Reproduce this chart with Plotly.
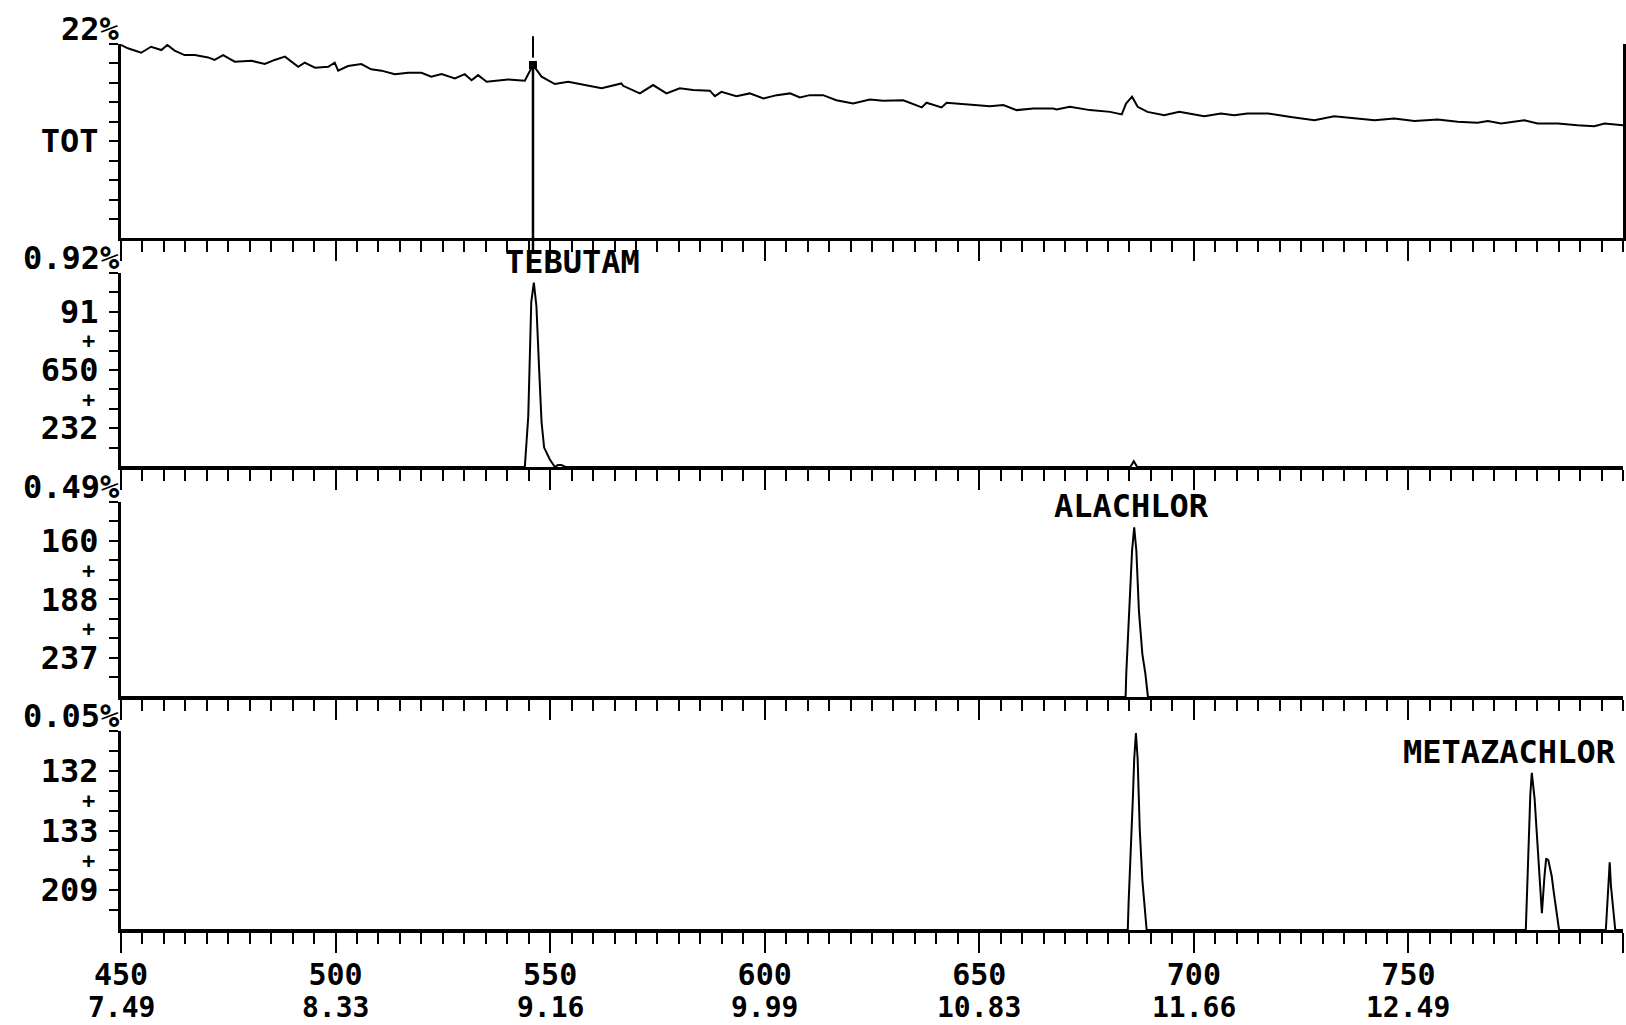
import plotly.graph_objects as go

FONT = "DejaVu Sans Mono"

# scan number axis with retention time (min) underneath
scan_ticks = [450, 500, 550, 600, 650, 700, 750]
time_ticks = ["7.49", "8.33", "9.16", "9.99", "10.83", "11.66", "12.49"]

# full-scale value and ion labels of each trace, top to bottom
scale_labels = ["22%", "0.92%", "0.49%", "0.05%"]
mass_labels = [["TOT"], ["91", "650", "232"], ["160", "188", "237"], ["132", "133", "209"]]

# total ion current (% of full scale)
tic_scan = [450, 451.6, 454.7, 457, 459.4, 460.8, 462.5, 464.8, 467.2, 470.3, 471.8, 473.8,
            476.5, 480.4, 483.5, 485.8, 488.2, 491.3, 492.8, 495.2, 498.3, 499.8, 500.6,
            502.9, 506, 508.3, 510.7, 513.8, 516.9, 520, 522.3, 524.7, 527.8, 530.1, 531.7,
            533.2, 535.2, 540.2, 544.1, 546, 548, 551.1, 554.2, 557.3, 562, 566.6, 567,
            570.9, 574, 577.1, 580.2, 583.3, 587.2, 588.4, 589.9, 593.4, 596.5, 599.7,
            602.8, 605.9, 608.2, 610.5, 613.6, 616.7, 620.6, 624.5, 627.6, 632.3, 633.8,
            636.6, 637.7, 641.2, 642.4, 648.6, 652.5, 655.6, 658.7, 662.6, 667.2, 668,
            671.1, 675.8, 680.5, 683.2, 684.2, 685.6, 686.9, 689.2, 693.1, 696.6, 702.4,
            706.3, 709.4, 712.5, 717.2, 722.6, 728.1, 732.7, 737.4, 742.1, 746.7, 751.4,
            756.8, 761.5, 766.1, 768.5, 771.6, 777, 780.1, 784.8, 789.4, 793.3, 795.7, 800]
tic_pct = [99.5, 97.8, 95.5, 98.6, 96.9, 99.5, 96.6, 94.3, 94.3, 93.1, 91.8, 94.3,
           90.9, 91.4, 89.7, 91.8, 93.5, 88.3, 90.4, 87.8, 88.3, 90.4, 86.3,
           88.7, 89.7, 87.0, 86.3, 84.5, 85.2, 85.2, 83.2, 84.5, 82.3, 84.5, 81.4,
           84.0, 80.6, 81.8, 81.1, 89.2, 83.2, 79.4, 80.6, 79.4, 77.2, 79.7, 78.5,
           74.6, 78.9, 74.6, 77.2, 76.3, 76.0, 73.2, 75.4, 73.2, 74.6, 72.0,
           73.7, 74.6, 72.5, 73.7, 73.7, 71.1, 69.4, 71.5, 70.8, 71.1, 69.8,
           67.4, 69.8, 67.4, 69.8, 68.6, 68.0, 68.6, 66.0, 66.8, 66.8, 66.3,
           67.7, 66.0, 65.1, 63.8, 69.4, 72.9, 67.7, 65.1, 63.4, 65.1, 62.9,
           64.3, 63.4, 64.3, 64.3, 62.5, 60.8, 62.9, 61.7, 60.8, 61.7, 60.4,
           61.2, 60.0, 59.5, 60.4, 59.1, 60.8, 59.1, 59.1, 58.2, 57.7, 59.1, 58.2]

# ions 91 + 650 + 232
ion_a_scan = [450, 544.1, 544.9, 545.3, 545.6, 546.2, 546.8, 547.4, 548.0, 548.6, 549.9,
              551.1, 551.8, 552.6, 553.6, 685.2, 686.0, 686.8, 800]
ion_a_pct = [0, 0, 26, 60, 85, 95, 83, 52, 23, 10, 4, 0, 1, 1, 0, 0, 3, 0, 0]

# ions 160 + 188 + 237
ion_b_scan = [450, 684.1, 684.25, 684.7, 685.2, 685.6, 686.1, 686.6, 687.2, 688.0, 688.7,
              689.3, 800]
ion_b_pct = [0, 0, 12, 33, 58, 75, 87, 75, 44, 22, 12, 0, 0]

# ions 132 + 133 + 209
ion_c_scan = [450, 684.6, 684.8, 685.3, 685.8, 686.1, 686.5, 686.9, 687.4, 688.0, 688.6,
              689.0, 777.35, 777.6, 778.0, 778.4, 778.75, 779.4, 779.9, 780.5, 781.1,
              781.7, 782.1, 782.6, 783.4, 783.8, 784.6, 785.1, 796.0, 796.2, 796.6,
              796.9, 797.2, 797.8, 798.2, 800]
ion_c_pct = [0, 0, 14, 38, 67, 86, 99, 86, 50, 25, 10, 0, 0, 16, 43, 68, 79, 66, 49, 27,
             8.5, 27, 36, 35, 27, 20, 7.6, 0, 0, 8, 24, 34, 22, 7, 0, 0]

compounds = ["TEBUTAM", "ALACHLOR", "METAZACHLOR"]
compound_scan = [546.2, 686.1, 778.75]
compound_panel = [1, 2, 3]
compound_shift = [-31, -82, -131]

series = [(tic_scan, tic_pct), (ion_a_scan, ion_a_pct),
          (ion_b_scan, ion_b_pct), (ion_c_scan, ion_c_pct)]
domains = [[0.7805, 1.0], [0.5226, 0.7415], [0.263, 0.4831], [0.0, 0.2246]]

label_font = dict(family=FONT, size=32, color="black", weight="bold")

fig = go.Figure()
annotations = []

for i, (xs, ys) in enumerate(series):
    sfx = "" if i == 0 else str(i + 1)
    fig.add_trace(go.Scatter(
        x=xs, y=ys, mode="lines",
        line=dict(color="black", width=2),
        xaxis="x" + sfx, yaxis="y" + sfx,
        showlegend=False, hoverinfo="skip"
    ))

    bottom = i == len(series) - 1
    fig.layout["xaxis" + sfx] = dict(
        domain=[0, 1], range=[450, 800], anchor="y" + sfx,
        showline=True, linewidth=3, linecolor="black",
        showgrid=False, zeroline=False, automargin=False,
        tickmode="array", tickvals=scan_ticks + [800],
        ticktext=[str(s) for s in scan_ticks] + [""],
        showticklabels=bottom,
        ticks="outside", ticklen=20, tickwidth=2, tickcolor="black",
        ticklabelstandoff=-4,
        tickfont=dict(family=FONT, size=30, color="black", weight="bold"),
        minor=dict(tick0=450, dtick=5, ticks="outside", ticklen=11,
                   tickwidth=2, tickcolor="black"),
    )

    labels = mass_labels[i]
    yvals = [50] if len(labels) == 1 else [80, 50, 20]
    fig.layout["yaxis" + sfx] = dict(
        domain=domains[i], range=[0, 100], anchor="x" + sfx,
        showline=True, linewidth=3, linecolor="black",
        mirror=(i == 0),
        showgrid=False, zeroline=False, automargin=False,
        tickmode="array", tickvals=yvals, ticktext=labels,
        ticks="outside", ticklen=9, tickwidth=2, tickcolor="black",
        ticklabelstandoff=4,
        tickfont=label_font,
        minor=dict(tickmode="array", tickvals=list(range(10, 101, 10)),
                   ticks="outside", ticklen=9, tickwidth=2, tickcolor="black"),
    )

    annotations.append(dict(
        text=scale_labels[i], xref="paper", x=0, xanchor="right", xshift=1,
        yref=f"y{sfx} domain", y=1, yanchor="middle", yshift=15,
        showarrow=False, font=label_font
    ))
    if len(labels) > 1:
        for yp in [65, 35]:
            annotations.append(dict(
                text="+", xref="paper", x=0, xanchor="right", xshift=-24,
                yref="y" + sfx, y=yp, yanchor="middle",
                showarrow=False, font=dict(family=FONT, size=22, color="black", weight="bold")
            ))

# retention times under the scan numbers
for s, t in zip(scan_ticks, time_ticks):
    annotations.append(dict(
        text=t, xref="x4", x=s, xanchor="center",
        yref="paper", y=0, yanchor="middle", yshift=-77,
        showarrow=False, font=dict(family=FONT, size=28, color="black", weight="bold")
    ))

for name, scan, p, shift in zip(compounds, compound_scan, compound_panel, compound_shift):
    xs, ys = series[p]
    apex = max(y for x, y in zip(xs, ys) if abs(x - scan) < 1)
    sfx = str(p + 1)
    annotations.append(dict(
        text=name, xref="x" + sfx, x=scan, xanchor="left", xshift=shift,
        yref="y" + sfx, y=apex, yanchor="middle", yshift=21,
        showarrow=False, font=label_font
    ))

# marker on the TOT trace at the tebutam scan
marker_scan = tic_scan[tic_pct.index(max(tic_pct[35:45]))]
marker_pct = tic_pct[tic_scan.index(marker_scan)]
fig.add_trace(go.Scatter(
    x=[marker_scan], y=[marker_pct], mode="markers",
    marker=dict(symbol="square", size=8, color="black"),
    showlegend=False, hoverinfo="skip"
))
shapes = [
    dict(type="line", xref="x", yref="y domain", x0=marker_scan, x1=marker_scan,
         y0=-0.08, y1=marker_pct / 100, line=dict(color="black", width=2.5)),
    dict(type="line", xref="x", yref="y domain", x0=marker_scan, x1=marker_scan,
         y0=0.93, y1=1.04, line=dict(color="black", width=2)),
]

fig.update_layout(
    width=1626, height=1025,
    margin=dict(l=121, r=3, t=44, b=95),
    paper_bgcolor="white", plot_bgcolor="white",
    annotations=annotations, shapes=shapes,
    showlegend=False,
)

# drop the browser's default page margin so the figure fills the window exactly
fig.write_html("out.html", config={"displayModeBar": False},
               post_script="document.body.style.margin = '0';")
